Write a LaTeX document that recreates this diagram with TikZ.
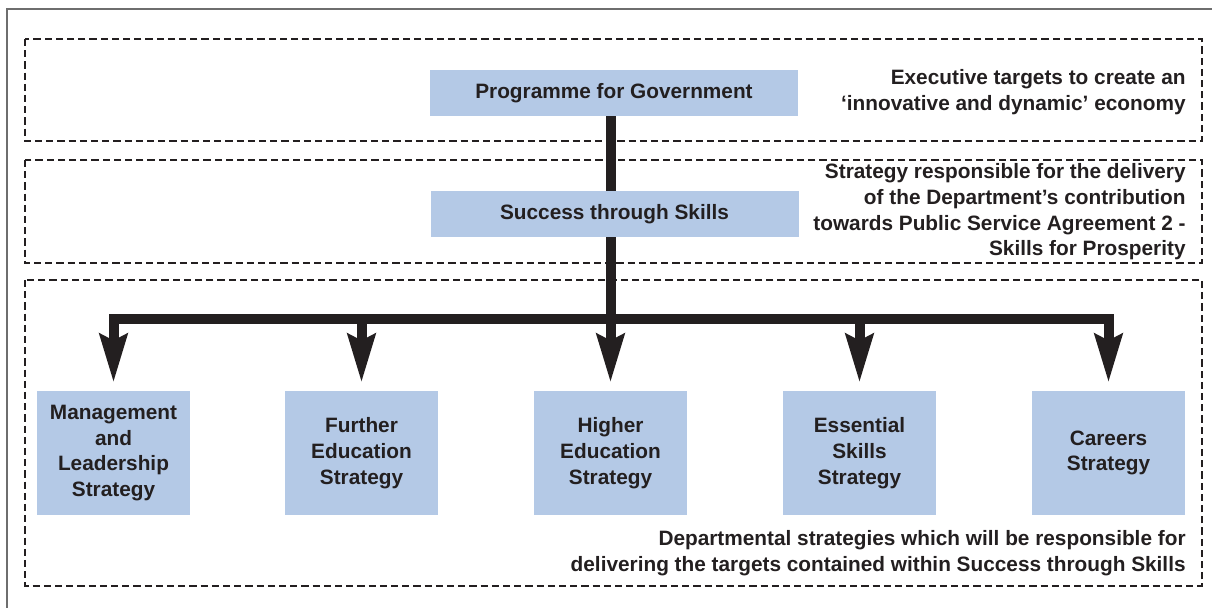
\documentclass[tikz,border=0pt]{standalone}
\usepackage{fontspec}
\setmainfont{Liberation Sans}
\usetikzlibrary{arrows.meta}
\definecolor{boxblue}{RGB}{180,201,230}
\definecolor{ink}{RGB}{35,31,32}
\definecolor{framegray}{RGB}{110,110,110}
\begin{document}
\begin{tikzpicture}[x=0.5pt,y=-0.5pt,
  txt/.style={font=\fontsize{10.4pt}{12.85pt}\selectfont\bfseries, text=ink},
  topbox/.style={txt, fill=boxblue, minimum width=184pt, minimum height=23pt, inner sep=0pt},
  stratbox/.style={txt, fill=boxblue, minimum width=76.5pt, minimum height=62pt, inner sep=0pt, align=center},
  note/.style={txt, anchor=east, align=right, inner sep=0pt},
  zone/.style={draw=ink, line width=1pt, dash pattern=on 3.6pt off 2pt},
  flow/.style={draw=ink, line width=5pt, line join=miter},
  arr/.style={flow, -{Stealth[length=24pt, width=13.5pt, inset=3pt]}, shorten >=4pt}
]
\useasboundingbox (0,0) rectangle (1212,608);
\draw[framegray, line width=0.8pt] (7,608) -- (7,9) -- (1212,9);

\draw[zone] (25,39) rectangle (1202,141);
\draw[zone] (25,160) rectangle (1202,263);
\draw[zone] (25,280) rectangle (1202,586);

\node[topbox] (prog) at (614,93) {Programme for Government};
\node[topbox] (succ) at (614.5,214) {Success through Skills};

\node[stratbox] (m1) at (113.5,453) {Management\\and\\Leadership\\Strategy};
\node[stratbox] (m2) at (361.5,453) {Further\\Education\\Strategy};
\node[stratbox] (m3) at (610.5,453) {Higher\\Education\\Strategy};
\node[stratbox] (m4) at (859.5,453) {Essential\\Skills\\Strategy};
\node[stratbox] (m5) at (1108.5,453) {Careers\\Strategy};

\node[note] (n1) at (1186,92) {Executive targets to create an\\‘innovative and dynamic’ economy};
\node[note] (n2) at (1186,212) {Strategy responsible for the delivery\\of the Department’s contribution\\towards Public Service Agreement 2 -\\Skills for Prosperity};
\node[note] (n3) at (1186,553) {Departmental strategies which will be responsible for\\delivering the targets contained within Success through Skills};

\coordinate (bar) at (610.5,319);

\draw[flow] (prog.south -| m3.north) -- (succ.north -| m3.north);
\draw[arr] (succ.south -| m3.north) -- (m3.north);
\draw[arr] (bar) -| (m1.north);
\draw[arr] (bar) -| (m5.north);
\draw[arr] (bar -| m2.north) -- (m2.north);
\draw[arr] (bar -| m4.north) -- (m4.north);
\end{tikzpicture}
\end{document}
